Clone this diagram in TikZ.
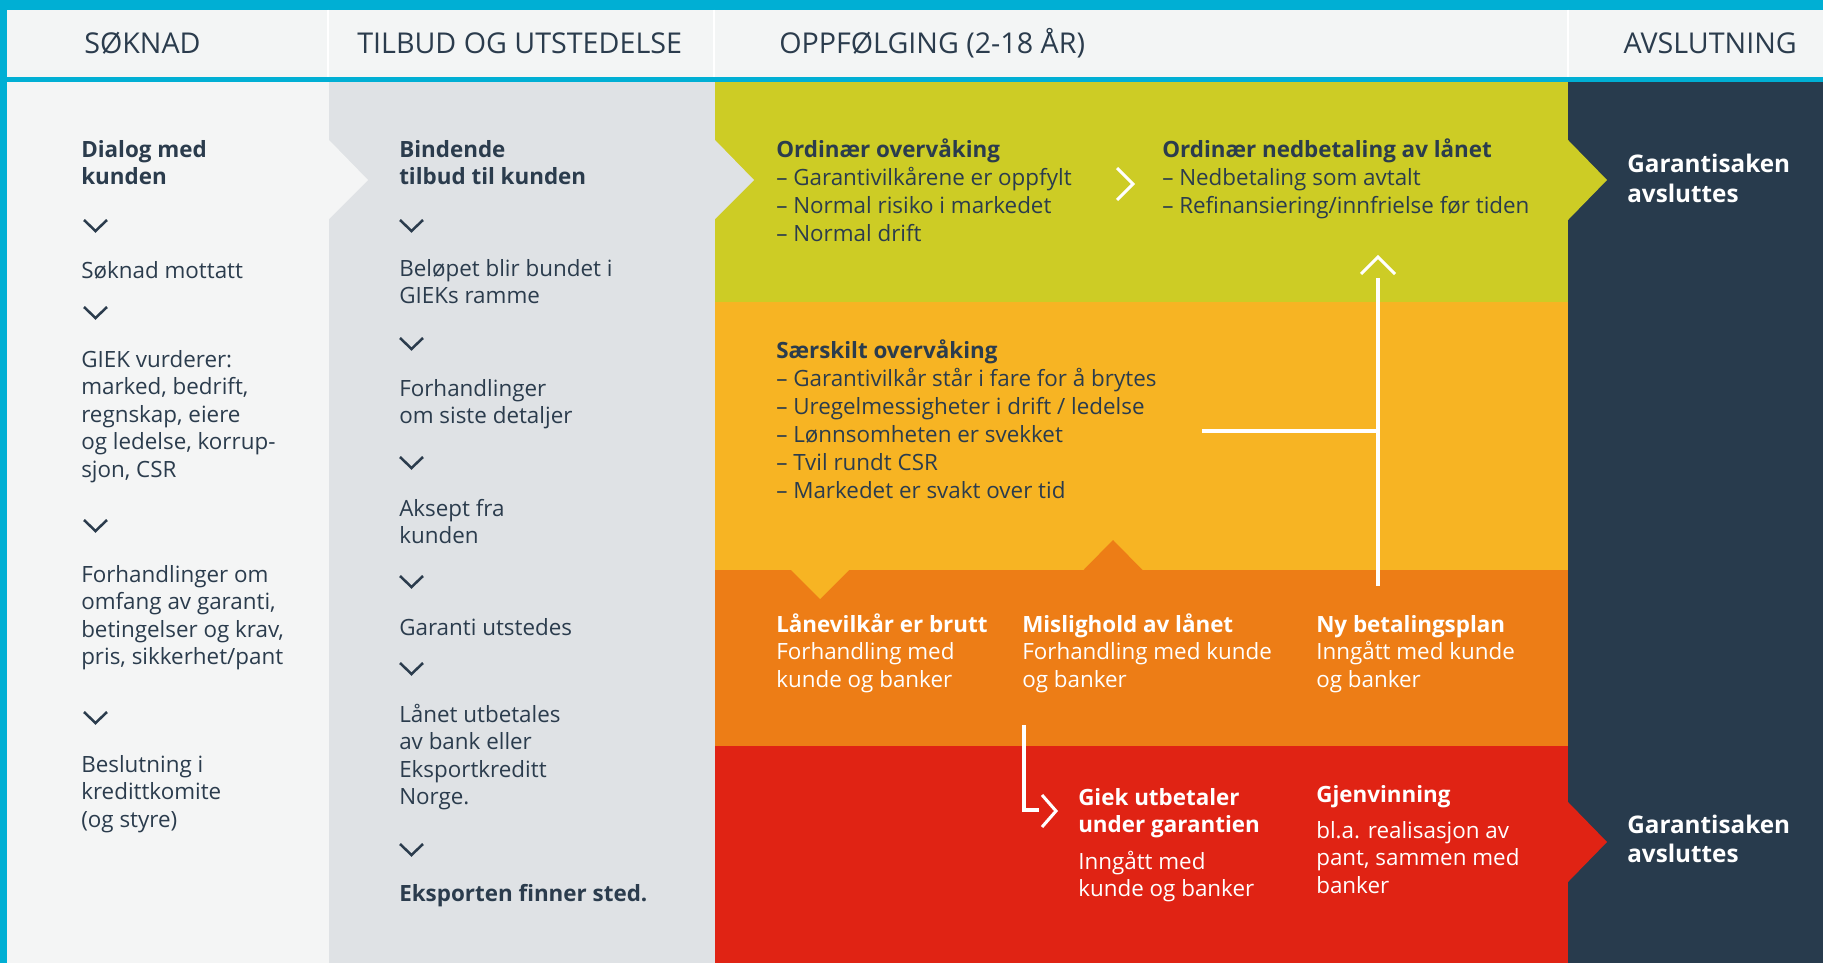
\documentclass[tikz,border=0pt]{standalone}
\usepackage{fontspec}
\setmainfont{Open Sans}
\definecolor{cyanb}{HTML}{00AFD4}
\definecolor{hdrbg}{HTML}{F3F5F5}
\definecolor{colA}{HTML}{F4F5F5}
\definecolor{colB}{HTML}{DFE2E5}
\definecolor{lgreen}{HTML}{CDCC25}
\definecolor{yorange}{HTML}{F7B423}
\definecolor{dorange}{HTML}{ED7D16}
\definecolor{dred}{HTML}{E02314}
\definecolor{navy}{HTML}{283B4D}
\definecolor{txt}{HTML}{2B3C4D}
\newcommand\dchev[2]{\draw[chevline] (#1,#2) -- ++(11.5,11) -- ++(11.5,-11);}
\newcommand\tl[1]{\begin{tabular}[t]{@{}l@{}}#1\end{tabular}}
\begin{document}
\begin{tikzpicture}[x=0.75pt,y=-0.75pt,
  body/.style={anchor=base west, inner sep=0pt, text=txt,
    font=\fontsize{16.8}{20.7}\selectfont},
  bodyw/.style={body, text=white},
  bodyg/.style={body, font=\fontsize{16.8}{21}\selectfont},
  hdr/.style={anchor=base west, inner sep=0pt, text=txt,
    font=\fontsize{21.5}{26}\selectfont},
  endtxt/.style={anchor=base west, inner sep=0pt, text=white,
    font=\fontsize{18.2}{21.75}\selectfont\bfseries},
  chevline/.style={draw=txt, line width=1.9pt, line join=miter},
  wline/.style={draw=white, line width=2.3pt},
  sep/.style={draw=white, line width=1.5pt}]
\useasboundingbox (0,0) rectangle (1823,963);
% frame and header
\fill[cyanb] (0,0) rectangle (1823,963);
\fill[hdrbg] (7,10) rectangle (1823,77);
\draw[sep] (328,10) -- (328,77);
\draw[sep] (714,10) -- (714,77);
\draw[sep] (1568,10) -- (1568,77);
% columns
\fill[colB] (329,82) rectangle (715,963);
\fill[colA] (7,82) rectangle (329,963);
\fill[colA] (329,140) -- (368,180) -- (329,219) -- cycle;
\fill[lgreen] (715,82) rectangle (1568,302);
\fill[colB] (715,140) -- (754,180) -- (715,219) -- cycle;
\fill[yorange] (715,302) rectangle (1568,570);
\fill[dorange] (715,570) rectangle (1568,746);
\fill[yorange] (791,570) -- (820,599) -- (849,570) -- cycle;
\fill[dorange] (1083,570.5) -- (1113,540) -- (1143,570.5) -- cycle;
\fill[dred] (715,746) rectangle (1568,963);
\fill[navy] (1568,82) rectangle (1823,963);
\fill[lgreen] (1568,140) -- (1607,180) -- (1568,220) -- cycle;
\fill[dred] (1568,802) -- (1607,842) -- (1568,882) -- cycle;
% headers
\node[hdr] (h1) at (84,54) {SØKNAD};
\node[hdr] (h2) at (357,54) {TILBUD OG UTSTEDELSE};
\node[hdr] (h3) at (779,54) {OPPFØLGING (2-18 ÅR)};
\node[hdr, anchor=base east] (h4) at (1797,54) {AVSLUTNING};
% column 1
\node[body] (a1) at (81,157) {\tl{\textbf{Dialog med}\\\textbf{kunden}}};
\dchev{84}{220}
\node[body] (a2) at (81,278) {Søknad mottatt};
\dchev{84}{307}
\node[body] (a3) at (81,367) {\tl{GIEK vurderer:\\marked, bedrift,\\regnskap, eiere\\og ledelse, korrup-\\sjon, CSR}};
\dchev{84}{520}
\node[body] (a4) at (81,582) {\tl{Forhandlinger om\\omfang av garanti,\\betingelser og krav,\\pris, sikkerhet/pant}};
\dchev{84}{712}
\node[body] (a5) at (81,772) {\tl{Beslutning i\\kredittkomite\\(og styre)}};
% column 2
\node[body] (b1) at (399,157) {\tl{\textbf{Bindende}\\\textbf{tilbud til kunden}}};
\dchev{400}{220}
\node[body] (b2) at (399,276) {\tl{Beløpet blir bundet i\\GIEKs ramme}};
\dchev{400}{338}
\node[body] (b3) at (399,396) {\tl{Forhandlinger\\om siste detaljer}};
\dchev{400}{457}
\node[body] (b4) at (399,516) {\tl{Aksept fra\\kunden}};
\dchev{400}{576}
\node[body] (b5) at (399,635) {Garanti utstedes};
\dchev{400}{663}
\node[body] (b6) at (399,722) {\tl{Lånet utbetales\\av bank eller\\Eksportkreditt\\Norge.}};
\dchev{400}{844}
\node[body] (b7) at (399,901) {\textbf{Eksporten finner sted.}};
% green band
\node[bodyg] (g1) at (776,157) {\tl{\textbf{Ordinær overvåking}\\– Garantivilkårene er oppfylt\\– Normal risiko i markedet\\– Normal drift}};
\draw[wline, line join=miter] (1117,168) -- (1133,184) -- (1117,200);
\node[bodyg] (g2) at (1162,157) {\tl{\textbf{Ordinær nedbetaling av lånet}\\– Nedbetaling som avtalt\\– Refinansiering/innfrielse før tiden}};
% orange band
\node[bodyg] (o1) at (776,358) {\tl{\textbf{Særskilt overvåking}\\– Garantivilkår står i fare for å brytes\\– Uregelmessigheter i drift / ledelse\\– Lønnsomheten er svekket\\– Tvil rundt CSR\\– Markedet er svakt over tid}};
% dark orange band
\node[bodyw] (d1) at (776,632) {\tl{\textbf{Lånevilkår er brutt}\\Forhandling med\\kunde og banker}};
\node[bodyw] (d2) at (1022,632) {\tl{\textbf{Mislighold av lånet}\\Forhandling med kunde\\og banker}};
\node[bodyw] (d3) at (1316,632) {\tl{\textbf{Ny betalingsplan}\\Inngått med kunde\\og banker}};
% red band
\node[bodyw] (r1) at (1078,805) {\tl{\textbf{Giek utbetaler}\\\textbf{under garantien}}};
\node[bodyw] (r2) at (1078,869) {\tl{Inngått med\\kunde og banker}};
\node[bodyw] (r3) at (1316,802) {\textbf{Gjenvinning}};
\node[bodyw] (r4) at (1316,838) {\tl{bl.a. realisasjon av\\pant, sammen med\\banker}};
% end column
\node[endtxt] (e1) at (1627,173) {\tl{Garantisaken\\avsluttes}};
\node[endtxt] (e2) at (1627,833) {\tl{Garantisaken\\avsluttes}};
% white connectors
\coordinate (upbot) at (1378,586);
\coordinate (uptop) at (1378,278);
\coordinate (branch) at (1202,431);
\coordinate (junct) at (1378,431);
\draw[wline] (upbot) -- (uptop);
\draw[wline] (branch) -- (junct);
\draw[wline, line join=miter] (1361,274) -- (1378,257) -- (1395,274);
\coordinate (lstart) at (1024,725);
\coordinate (lcorner) at (1024,810);
\coordinate (lend) at (1039,810);
\draw[wline] (lstart) -- (lcorner) -- (lend);
\draw[wline, line join=miter] (1042,795) -- (1056,811) -- (1042,827);
\end{tikzpicture}
\end{document}
